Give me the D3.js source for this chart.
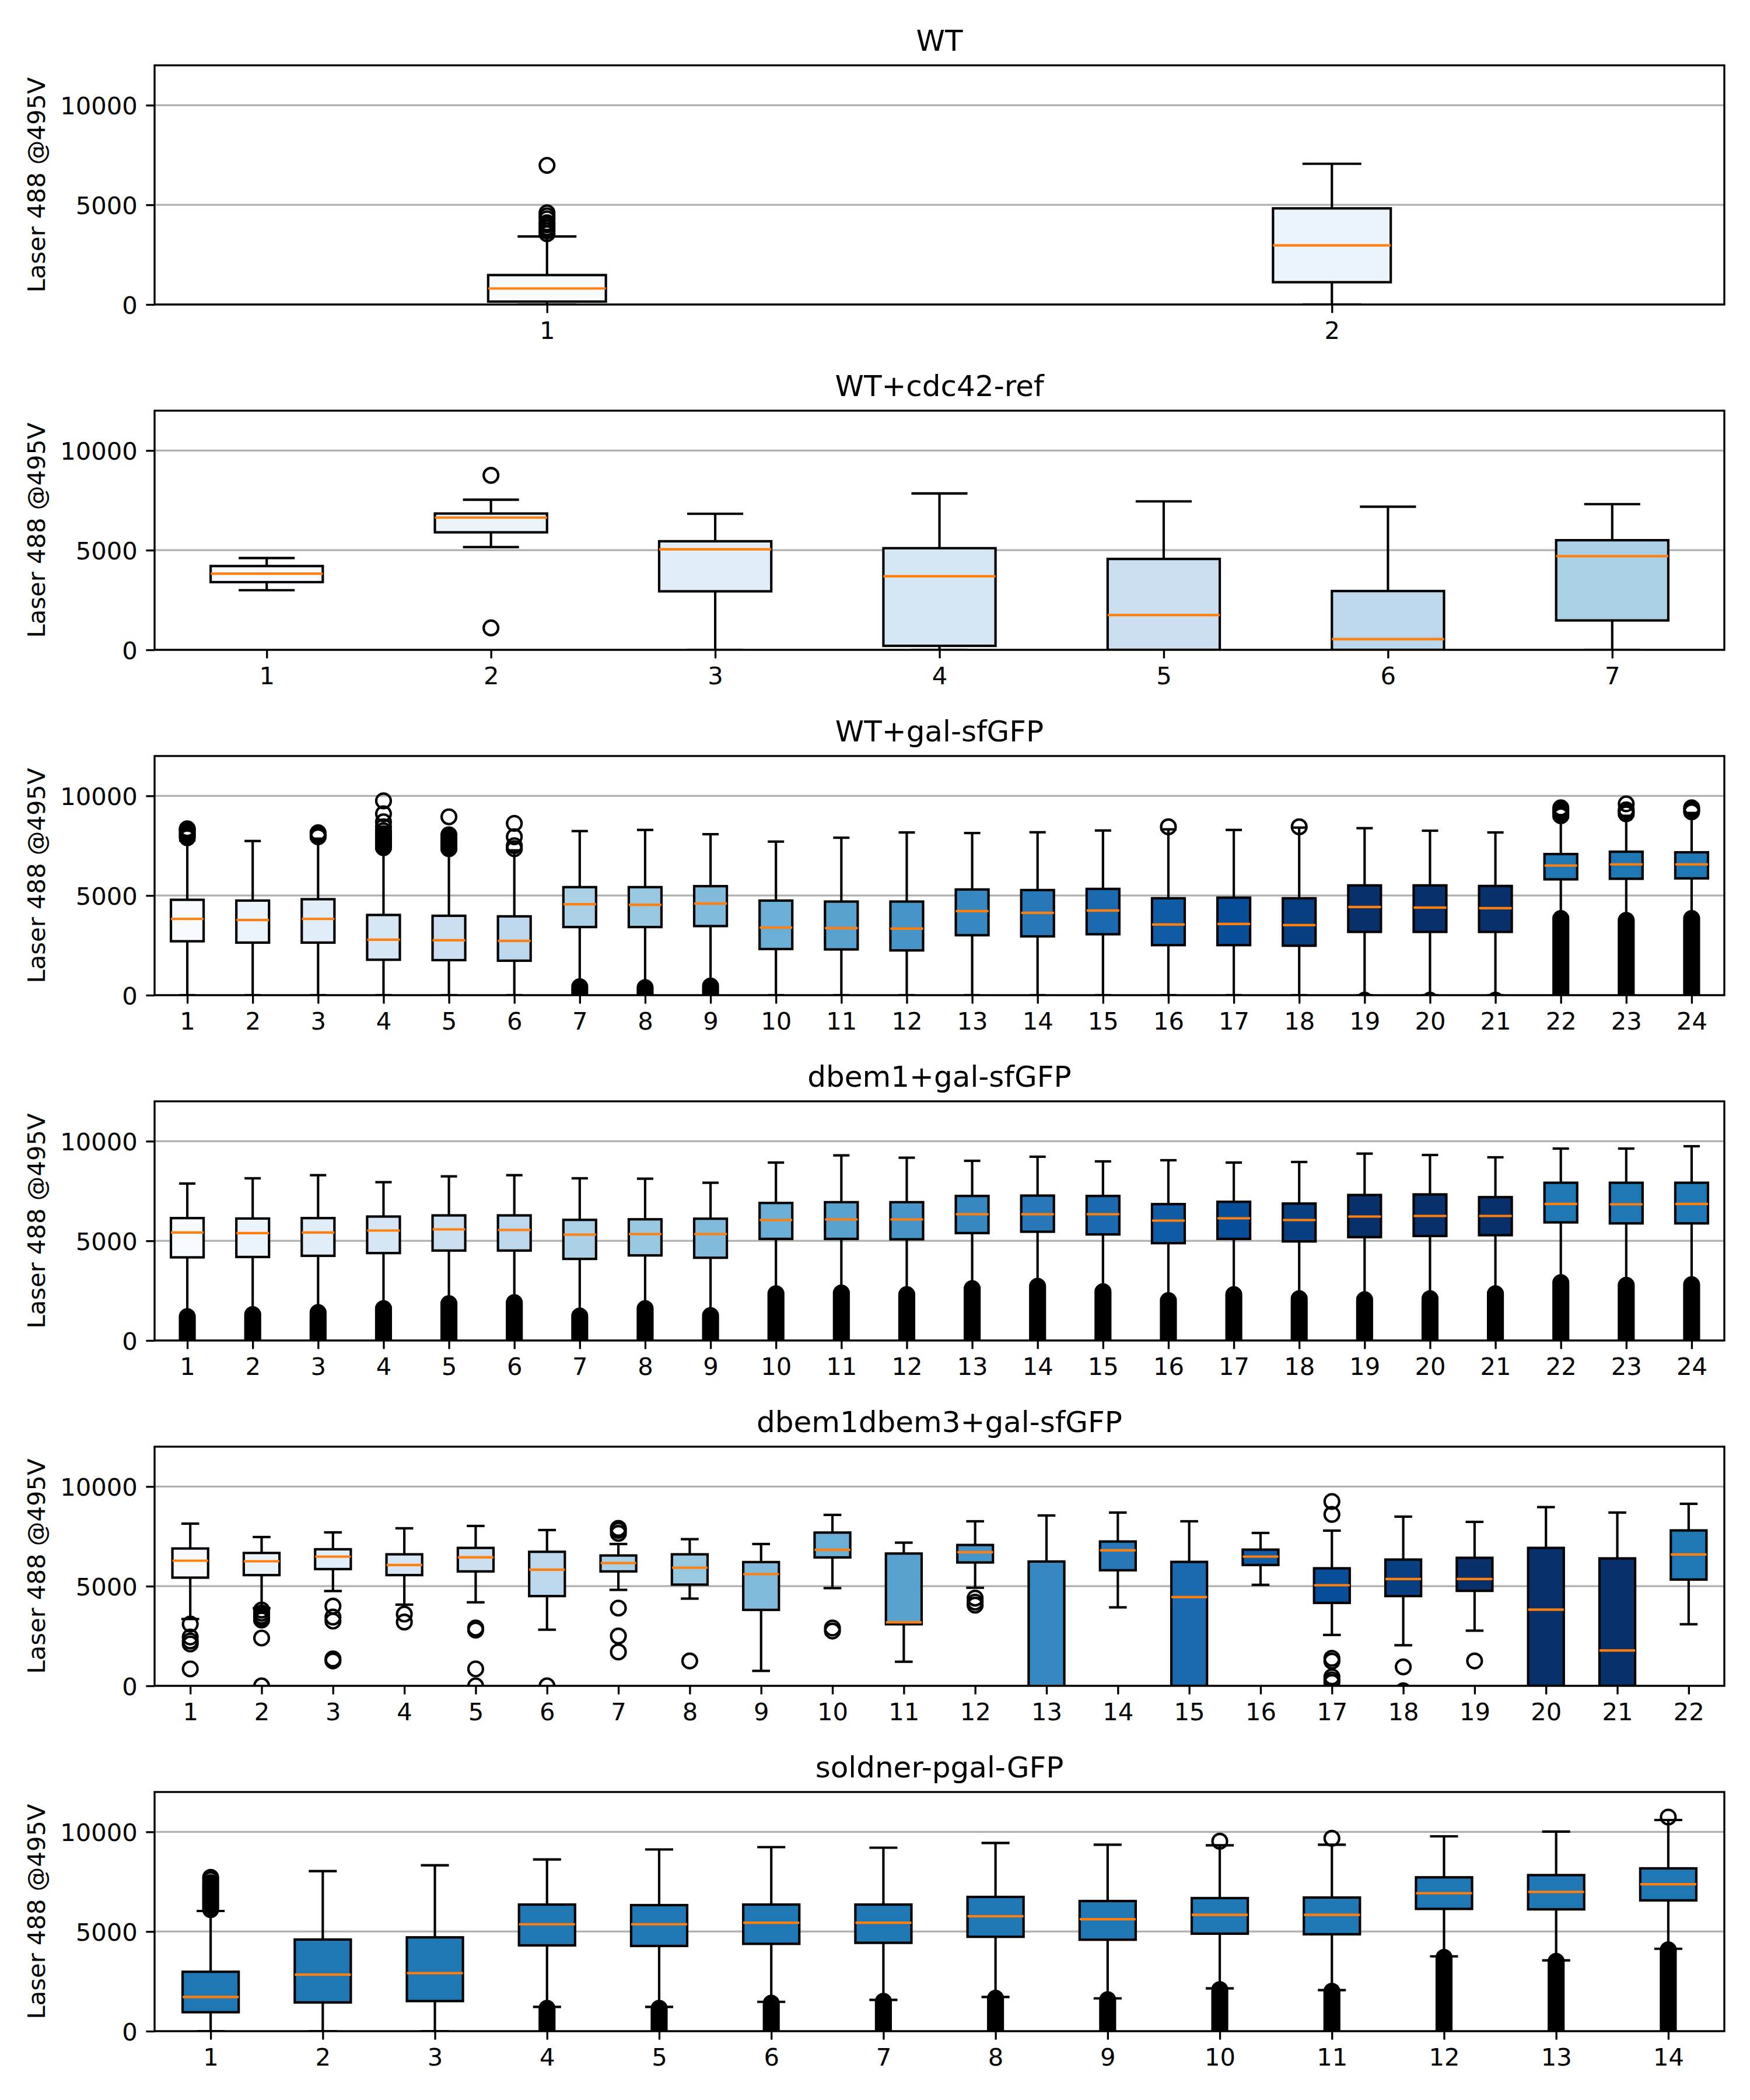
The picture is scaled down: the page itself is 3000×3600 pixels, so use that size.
<!DOCTYPE html>
<html><head><meta charset="utf-8">
<script src="https://cdn.jsdelivr.net/npm/d3@7"></script>
<style>body{margin:0;background:#fff}</style>
</head><body><svg id="chart"></svg>
<script>
// ---------------- DATA ----------------
const titles = ["WT", "WT+cdc42-ref", "WT+gal-sfGFP", "dbem1+gal-sfGFP", "dbem1dbem3+gal-sfGFP", "soldner-pgal-GFP"];
const yLabel = "Laser 488 @495V";
const yTicks = [0, 5000, 10000];
const yMax = 12000;
// boxes that are shaded with the Blues map (index/shadeSteps); the rest keep the default colour
const shadeSteps = 18;
const shadedCount = [2, 7, 21, 21, 21, 0];

// stats per box: [lowWhisker, Q1, median, Q3, highWhisker]
const statsWT = [[0, 145, 806, 1477, 3413], [0, 1119, 2965, 4823, 7061]];
const fliersWT = [[3550, 3700, 3850, 4000, 4100, 4300, 4450, 4600, 6980], []];
const cloudsWT = [null, null];

const statsCdc = [
  [2993, 3397, 3823, 4204, 4607], [5157, 5896, 6636, 6838, 7533], [0, 2937, 5045, 5448, 6827],
  [0, 200, 3690, 5100, 7850], [0, 0, 1745, 4560, 7450], [0, 0, 540, 2950, 7180], [0, 1475, 4700, 5500, 7310]];
const fliersCdc = [[], [8755, 1099], [], [], [], [], []];
const cloudsCdc = [null, null, null, null, null, null, null];

const statsGal = [
  [0, 2705, 3828, 4785, 7764], [0, 2637, 3770, 4746, 7735], [0, 2637, 3828, 4815, 7852],
  [0, 1777, 2783, 4024, 7325], [0, 1758, 2754, 3984, 7285], [0, 1729, 2725, 3955, 7266],
  [480, 3418, 4561, 5420, 8233], [440, 3418, 4531, 5420, 8291], [527, 3467, 4600, 5469, 8076],
  [0, 2315, 3389, 4746, 7705], [0, 2295, 3360, 4697, 7900], [0, 2246, 3340, 4697, 8164],
  [0, 3008, 4219, 5303, 8135], [0, 2949, 4131, 5274, 8174], [0, 3057, 4248, 5332, 8262],
  [0, 2510, 3545, 4863, 8320], [0, 2510, 3574, 4893, 8291], [0, 2481, 3516, 4863, 8408],
  [0, 3174, 4424, 5508, 8379], [0, 3174, 4395, 5508, 8252], [0, 3174, 4365, 5479, 8164],
  [3926, 5811, 6504, 7080, 8900], [3809, 5840, 6563, 7197, 9000], [3906, 5860, 6563, 7168, 9141]];
const fliersGal = [
  [7900, 8000, 8100, 8200, 8300, 8350], [], [7950, 8050, 8150],
  [7400, 7500, 7600, 7700, 7800, 7900, 8000, 8100, 8250, 8450, 8700, 9100, 9750],
  [7350, 7450, 7550, 7650, 7750, 7850, 7950, 8050, 8950], [7350, 7500, 7950, 8620],
  [], [], [], [], [], [], [], [], [],
  [8447], [], [8447], [-250], [-250], [-250],
  [9000, 9100, 9200, 9300, 9400], [9100, 9200, 9300, 9600], [9200, 9300, 9400]];
const cloudsGal = [null, null, null, null, null, null, [0, 420], [0, 380], [0, 460],
  null, null, null, null, null, null, null, null, null, null, null, null,
  [0, 3850], [0, 3750], [0, 3850]];

const statsBem1 = [
  [1248, 4172, 5419, 6141, 7876], [1345, 4191, 5390, 6121, 8139], [1462, 4250, 5419, 6141, 8295],
  [1667, 4386, 5517, 6219, 7944], [1901, 4513, 5575, 6277, 8236], [1959, 4513, 5546, 6277, 8295],
  [1277, 4094, 5312, 6053, 8139], [1667, 4269, 5341, 6082, 8119], [1296, 4152, 5341, 6111, 7915],
  [2417, 5098, 6043, 6901, 8928], [2437, 5098, 6072, 6940, 9289], [2359, 5078, 6072, 6940, 9172],
  [2661, 5390, 6336, 7252, 9016], [2778, 5458, 6336, 7271, 9221], [2515, 5322, 6336, 7252, 8987],
  [2076, 4883, 6014, 6843, 9045], [2369, 5098, 6131, 6959, 8928], [2174, 4971, 6043, 6872, 8957],
  [2125, 5185, 6219, 7301, 9377], [2154, 5244, 6248, 7330, 9308], [2417, 5283, 6248, 7193, 9192],
  [2953, 5926, 6852, 7915, 9630], [2827, 5877, 6833, 7915, 9630], [2856, 5877, 6852, 7915, 9747]];
const fliersBem1 = Array.from({length: 24}, () => []);
const cloudsBem1 = [[0, 1200], [0, 1300], [0, 1400], [0, 1600], [0, 1850], [0, 1900],
  [0, 1230], [0, 1600], [0, 1250], [0, 2350], [0, 2380], [0, 2300],
  [0, 2600], [0, 2720], [0, 2450], [0, 2000], [0, 2300], [0, 2100],
  [0, 2050], [0, 2100], [0, 2350], [0, 2900], [0, 2770], [0, 2800]];

const statsBem13 = [
  [3353, 5429, 6277, 6891, 8139], [3899, 5556, 6248, 6667, 7466], [4757, 5858, 6482, 6852, 7700],
  [4074, 5556, 6063, 6599, 7905], [4191, 5741, 6452, 6920, 8022], [2817, 4503, 5829, 6725, 7817],
  [4815, 5741, 6160, 6540, 7115], [4376, 5078, 5926, 6599, 7359], [750, 3811, 5605, 6209, 7115],
  [4903, 6443, 6823, 7690, 8577], [1209, 3090, 3187, 6638, 7184], [4922, 6189, 6706, 7067, 8256],
  [0, 0, 0, 6238, 8548], [3938, 5799, 6803, 7242, 8694], [0, 0, 4454, 6219, 8256],
  [5068, 6063, 6482, 6833, 7671], [2554, 4162, 5049, 5897, 7788], [2037, 4503, 5361, 6336, 8490],
  [2768, 4766, 5361, 6423, 8226], [0, 0, 3821, 6920, 8967], [0, 0, 1774, 6394, 8694],
  [3090, 5332, 6589, 7798, 9133]];
const fliersBem13 = [
  [3100, 2450, 2250, 2100, 850], [3800, 3650, 3500, 3400, 3300, 2400, 0], [4000, 3450, 3250, 1350, 1250],
  [3600, 3200], [2900, 2800, 850, 0], [0], [7900, 7800, 7650, 3900, 2500, 1700], [1250], [],
  [2900, 2750], [], [4400, 4200, 4050], [], [], [], [],
  [9250, 8600, 1380, 1240, 450, 300, 170], [950, -250], [1250], [], [], []];
const cloudsBem13 = Array.from({length: 22}, () => null);

const statsSold = [
  [0, 951, 1716, 2980, 6029], [0, 1441, 2833, 4598, 8029], [0, 1510, 2912, 4706, 8324],
  [1216, 4304, 5363, 6353, 8618], [1216, 4275, 5363, 6324, 9118], [1471, 4382, 5441, 6353, 9235],
  [1569, 4431, 5441, 6353, 9206], [1716, 4735, 5765, 6735, 9441], [1647, 4588, 5618, 6529, 9353],
  [2147, 4892, 5833, 6676, 9324], [2059, 4863, 5833, 6706, 9353], [3753, 6135, 6921, 7719, 9775],
  [3551, 6112, 6989, 7831, 10011], [4135, 6562, 7371, 8169, 10596]];
const fliersSold = [[7600, 7720], [], [], [], [], [], [], [], [], [9529], [9676], [], [], [10742]];
const cloudsSold = [[6100, 7450], null, null, [0, 1150], [0, 1150], [0, 1400], [0, 1500], [0, 1650],
  [0, 1580], [0, 2080], [0, 2000], [0, 3700], [0, 3500], [0, 4080]];

// ---------------- DRAWING ----------------
const panels = [
  {stats: statsWT, fliers: fliersWT, clouds: cloudsWT},
  {stats: statsCdc, fliers: fliersCdc, clouds: cloudsCdc},
  {stats: statsGal, fliers: fliersGal, clouds: cloudsGal},
  {stats: statsBem1, fliers: fliersBem1, clouds: cloudsBem1},
  {stats: statsBem13, fliers: fliersBem13, clouds: cloudsBem13},
  {stats: statsSold, fliers: fliersSold, clouds: cloudsSold}
].map((p, i) => Object.assign(p, {title: titles[i], shaded: shadedCount[i]}));

const PT = 300 / 72;
const FONT = "DejaVu Sans, Liberation Sans, sans-serif";
const W = 3000, H = 3600;
const axLeft = 265, axRight = 2956, axTop0 = 112, axStep = 592, axH = 410;
const lw = 1.0 * PT, spineW = 0.8 * PT;
const markerR = 3 * PT;
const defaultColor = "#1f77b4", medianColor = "#ff7f0e";
const bluesStops = ["#f7fbff", "#deebf7", "#c6dbef", "#9ecae1", "#6baed6", "#4292c6", "#2171b5", "#08519c", "#08306b"];
const blues = d3.scaleLinear().domain(bluesStops.map((_, i) => i / 8)).range(bluesStops).clamp(true);

const svg = d3.select("#chart").attr("width", W).attr("height", H).attr("viewBox", `0 0 ${W} ${H}`);
svg.append("rect").attr("width", W).attr("height", H).attr("fill", "#ffffff");

panels.forEach((p, pi) => {
  const top = axTop0 + pi * axStep, bottom = top + axH;
  const n = p.stats.length;
  const x = d3.scaleLinear().domain([0.5, n + 0.5]).range([axLeft, axRight]);
  const y = d3.scaleLinear().domain([0, yMax]).range([bottom, top]);
  const g = svg.append("g");
  const clipId = "clip" + pi;
  g.append("clipPath").attr("id", clipId).append("rect")
    .attr("x", axLeft).attr("y", top).attr("width", axRight - axLeft).attr("height", axH);

  // grid
  g.append("g").selectAll("line").data(yTicks).join("line")
    .attr("x1", axLeft).attr("x2", axRight).attr("y1", d => y(d)).attr("y2", d => y(d))
    .attr("stroke", "#b0b0b0").attr("stroke-width", spineW);

  const bw = Math.min(0.5, 0.15 * (n - 1));
  const half = (x(1 + bw / 2) - x(1));
  const capHalf = half / 2;
  const plot = g.append("g").attr("clip-path", `url(#${clipId})`);

  p.stats.forEach((s, i) => {
    const [lo, q1, med, q3, hi] = s;
    const cx = x(i + 1);
    const fill = i < p.shaded ? blues(Math.min(i / shadeSteps, 1)) : defaultColor;
    const bg = plot.append("g");
    // whiskers
    bg.append("line").attr("x1", cx).attr("x2", cx).attr("y1", y(q1)).attr("y2", y(lo))
      .attr("stroke", "#000").attr("stroke-width", lw);
    bg.append("line").attr("x1", cx).attr("x2", cx).attr("y1", y(q3)).attr("y2", y(hi))
      .attr("stroke", "#000").attr("stroke-width", lw);
    // caps
    [lo, hi].forEach(v => {
      bg.append("line").attr("x1", cx - capHalf).attr("x2", cx + capHalf).attr("y1", y(v)).attr("y2", y(v))
        .attr("stroke", "#000").attr("stroke-width", lw);
    });
    // box
    bg.append("rect").attr("x", cx - half).attr("width", 2 * half)
      .attr("y", y(q3)).attr("height", Math.max(0, y(q1) - y(q3)))
      .attr("fill", fill).attr("stroke", "#000").attr("stroke-width", lw);
    // median
    bg.append("line").attr("x1", cx - half).attr("x2", cx + half).attr("y1", y(med)).attr("y2", y(med))
      .attr("stroke", medianColor).attr("stroke-width", lw);
    // dense flier cloud
    const c = p.clouds[i];
    if (c) {
      bg.append("rect").attr("x", cx - markerR).attr("width", 2 * markerR)
        .attr("y", y(c[1]) - markerR).attr("height", y(c[0]) - y(c[1]) + 2 * markerR)
        .attr("rx", markerR).attr("ry", markerR)
        .attr("fill", "#000").attr("stroke", "#000").attr("stroke-width", lw);
    }
    // individual fliers
    bg.selectAll("circle").data(p.fliers[i]).join("circle")
      .attr("cx", cx).attr("cy", d => y(d)).attr("r", markerR)
      .attr("fill", "none").attr("stroke", "#000").attr("stroke-width", lw);
  });

  // axes
  const yAxis = d3.axisLeft(y).tickValues(yTicks).tickFormat(d3.format("d"))
    .tickSize(3.5 * PT).tickPadding(3.5 * PT).tickSizeOuter(0);
  const ya = g.append("g").attr("transform", `translate(${axLeft},0)`).call(yAxis);
  const xAxis = d3.axisBottom(x).tickValues(d3.range(1, n + 1)).tickFormat(d3.format("d"))
    .tickSize(3.5 * PT).tickPadding(3.5 * PT).tickSizeOuter(0);
  const xa = g.append("g").attr("transform", `translate(0,${bottom})`).call(xAxis);
  [ya, xa].forEach(a => {
    a.select(".domain").remove();
    a.selectAll(".tick line").attr("stroke", "#000").attr("stroke-width", spineW);
    a.selectAll(".tick text").attr("fill", "#000").style("font-family", FONT).style("font-size", (10 * PT) + "px");
  });
  ya.selectAll(".tick text").attr("dy", "0.36em");

  // spines
  g.append("rect").attr("x", axLeft).attr("y", top).attr("width", axRight - axLeft).attr("height", axH)
    .attr("fill", "none").attr("stroke", "#000").attr("stroke-width", spineW);

  // title
  g.append("text").attr("x", (axLeft + axRight) / 2).attr("y", top - 6 * PT)
    .attr("text-anchor", "middle").style("font-family", FONT).style("font-size", (12 * PT) + "px")
    .attr("fill", "#000").text(p.title);

  // y label
  g.append("text").attr("transform", `translate(77,${(top + bottom) / 2}) rotate(-90)`)
    .attr("text-anchor", "middle").style("font-family", FONT).style("font-size", (10 * PT) + "px")
    .attr("fill", "#000").text(yLabel);
});
</script>
</body></html>
